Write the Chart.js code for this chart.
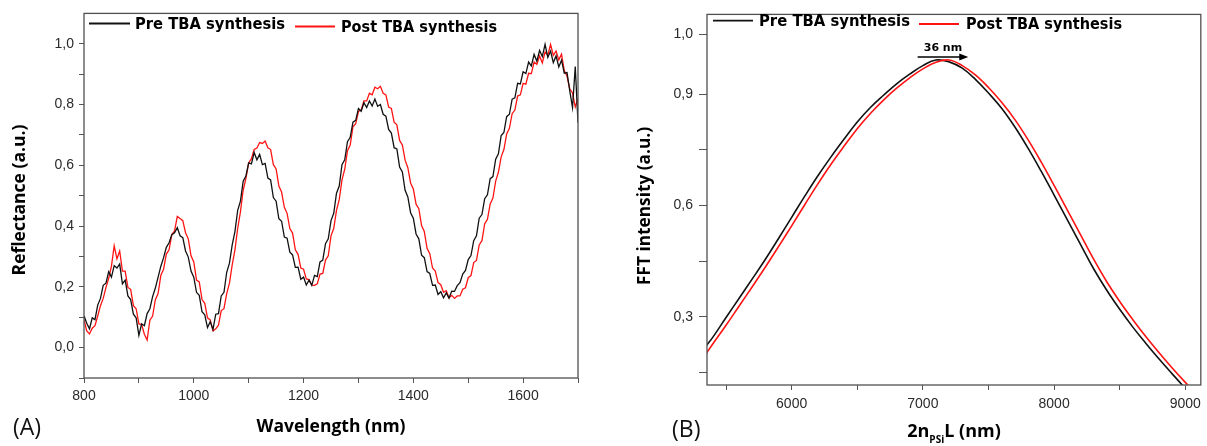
<!DOCTYPE html>
<html><head><meta charset="utf-8">
<script src="https://cdn.jsdelivr.net/npm/chart.js@4.4.1/dist/chart.umd.min.js"></script>
<style>
html,body{margin:0;padding:0;background:#fff;}
body{width:1207px;height:446px;position:relative;overflow:hidden;}
.panel{position:absolute;top:0;height:446px;}
#wa{left:0;width:600px;}
#wb{left:600px;width:607px;}
.tag{position:absolute;font-family:'Open Sans';font-size:23px;color:#111;line-height:30px;}
</style></head>
<body>
<div class="panel" id="wa"><canvas id="ca" width="600" height="446"></canvas></div>
<div class="panel" id="wb"><canvas id="cb" width="607" height="446"></canvas></div>
<div class="tag" style="left:13px;top:411px">(A)</div>
<div class="tag" style="left:672px;top:413px">(B)</div>
<script>
// ---------- Panel A data: reflectance spectra ----------
const wavelengthNm = [
800,805,810,815,820,825,830,835,840,845,850,855,860,865,870,875,880,885,890,895,
900,905,910,915,920,925,930,935,940,945,950,955,960,965,970,975,980,985,990,995,
1000,1005,1010,1015,1020,1025,1030,1035,1040,1045,1050,1055,1060,1065,1070,1075,1080,1085,1090,1095,
1100,1105,1110,1115,1120,1125,1130,1135,1140,1145,1150,1155,1160,1165,1170,1175,1180,1185,1190,1195,
1200,1205,1210,1215,1220,1225,1230,1235,1240,1245,1250,1255,1260,1265,1270,1275,1280,1285,1290,1295,
1300,1305,1310,1315,1320,1325,1330,1335,1340,1345,1350,1355,1360,1365,1370,1375,1380,1385,1390,1395,
1400,1405,1410,1415,1420,1425,1430,1435,1440,1445,1450,1455,1460,1465,1470,1475,1480,1485,1490,1495,
1500,1505,1510,1515,1520,1525,1530,1535,1540,1545,1550,1555,1560,1565,1570,1575,1580,1585,1590,1595,
1600,1605,1610,1615,1620,1625,1630,1635,1640,1645,1650,1655,1660,1665,1670,1675,1680,1685,1690,1695,
1700];
const reflPre = [
0.105,0.08,0.062,0.098,0.092,0.14,0.162,0.205,0.212,0.25,0.232,0.27,0.262,0.275,0.21,0.222,0.17,0.158,0.11,0.098,
0.04,0.078,0.072,0.112,0.128,0.168,0.196,0.232,0.268,0.296,0.33,0.345,0.372,0.378,0.395,0.368,0.362,0.318,0.298,0.252,
0.232,0.182,0.172,0.118,0.108,0.066,0.085,0.06,0.11,0.112,0.17,0.182,0.248,0.278,0.338,0.382,0.452,0.482,0.548,0.565,
0.608,0.605,0.642,0.618,0.636,0.602,0.606,0.558,0.552,0.494,0.482,0.424,0.416,0.364,0.36,0.314,0.305,0.264,0.265,0.225,
0.232,0.206,0.222,0.205,0.238,0.234,0.282,0.288,0.342,0.358,0.418,0.442,0.508,0.532,0.602,0.618,0.678,0.692,0.742,0.748,
0.787,0.778,0.806,0.79,0.812,0.795,0.818,0.794,0.8,0.768,0.762,0.718,0.706,0.658,0.654,0.594,0.578,0.518,0.496,0.444,
0.426,0.374,0.358,0.304,0.296,0.25,0.244,0.205,0.206,0.175,0.184,0.164,0.18,0.163,0.186,0.185,0.204,0.214,0.242,0.254,
0.29,0.303,0.352,0.368,0.426,0.438,0.49,0.503,0.556,0.563,0.62,0.638,0.698,0.708,0.76,0.768,0.818,0.822,0.87,0.868,
0.908,0.902,0.94,0.927,0.965,0.943,0.978,0.958,0.998,0.955,0.976,0.938,0.96,0.924,0.946,0.903,0.905,0.845,0.79,0.925,
0.74];
const reflPost = [
0.092,0.055,0.045,0.064,0.072,0.104,0.138,0.162,0.198,0.228,0.268,0.335,0.292,0.318,0.252,0.252,0.198,0.192,0.138,0.128,
0.078,0.076,0.044,0.025,0.09,0.104,0.158,0.178,0.238,0.258,0.308,0.322,0.372,0.384,0.432,0.425,0.418,0.378,0.358,0.302,
0.282,0.222,0.216,0.158,0.146,0.098,0.091,0.055,0.062,0.074,0.122,0.128,0.178,0.212,0.272,0.322,0.392,0.447,0.518,0.557,
0.608,0.622,0.652,0.657,0.675,0.672,0.68,0.658,0.652,0.602,0.588,0.532,0.512,0.462,0.442,0.392,0.377,0.322,0.307,0.262,
0.258,0.226,0.224,0.206,0.205,0.21,0.242,0.244,0.288,0.302,0.368,0.392,0.452,0.487,0.552,0.587,0.648,0.667,0.727,0.737,
0.777,0.782,0.812,0.812,0.837,0.832,0.857,0.852,0.86,0.837,0.832,0.792,0.787,0.742,0.733,0.682,0.667,0.617,0.592,0.542,
0.522,0.472,0.457,0.402,0.382,0.327,0.309,0.262,0.252,0.214,0.207,0.182,0.187,0.164,0.172,0.162,0.17,0.17,0.192,0.197,
0.23,0.237,0.28,0.287,0.338,0.352,0.408,0.422,0.473,0.492,0.548,0.577,0.628,0.652,0.703,0.722,0.77,0.782,0.828,0.832,
0.87,0.867,0.903,0.902,0.94,0.932,0.96,0.937,0.973,0.962,0.998,0.962,0.976,0.947,0.966,0.912,0.893,0.852,0.838,0.792,
0.82];
const wlTicks  = [800,900,1000,1100,1200,1300,1400,1500,1600,1700];
const wlLabels = ['800','','1000','','1200','','1400','','1600',''];
const reflTicks  = [-0.1,0,0.1,0.2,0.3,0.4,0.5,0.6,0.7,0.8,0.9,1.0];
const reflLabels = ['','0,0','','0,2','','0,4','','0,6','','0,8','','1,0'];

// ---------- Panel B data: FFT ----------
const opticalPathNm = [5350,5400,5500,5600,5700,5800,5900,6000,6100,6200,6300,6400,6500,6600,6700,6800,6900,7000,7100,
7200,7300,7400,7500,7600,7700,7800,7900,8000,8100,8200,8300,8400,8500,8600,8700,8800,8900,9000,9100];
const fftPre = [0.222,0.245,0.298,0.350,0.402,0.455,0.511,0.568,0.625,0.680,0.731,0.779,0.825,0.864,0.897,0.928,0.954,0.977,0.992,
0.987,0.970,0.940,0.903,0.862,0.812,0.755,0.693,0.628,0.562,0.496,0.430,0.372,0.320,0.272,0.228,0.186,0.146,0.107,0.070];
const fftPost = [0.201,0.227,0.277,0.329,0.381,0.434,0.489,0.545,0.602,0.658,0.711,0.760,0.807,0.848,0.884,0.916,0.944,0.968,0.986,
0.992,0.977,0.952,0.918,0.878,0.832,0.778,0.718,0.654,0.588,0.522,0.456,0.395,0.341,0.292,0.246,0.203,0.162,0.123,0.085];
const pathTicks  = [5500,6000,6500,7000,7500,8000,8500,9000];
const pathLabels = ['','6000','','7000','','8000','','9000'];
const fftTicks  = [0.15,0.3,0.45,0.6,0.75,0.9,1.062];
const fftLabels = ['','0,3','','0,6','','0,9','1,0'];
const shiftArrowNm = [6960, 7346];
const shiftText = '36 nm';

const seriesNames = ['Pre TBA synthesis', 'Post TBA synthesis'];
const BLACK = '#111111', RED = '#ff1414';

const pts = (xs, ys) => xs.map((x, i) => ({x, y: ys[i]}));
const tickFont = {family: '"Liberation Sans", Arial, sans-serif', size: 14};

function axis(min, max, ticks, labels, tickLen, pad, fitSize, horizontal) {
  return {
    type: 'linear', min, max,
    afterBuildTicks: s => { s.ticks = ticks.map(v => ({value: v})); },
    afterFit: s => { if (horizontal) s.height = fitSize; else s.width = fitSize; },
    ticks: {autoSkip: false, maxRotation: 0, padding: pad, color: '#2a2a2a', font: tickFont,
            callback: (v, i) => labels[i]},
    grid: {drawOnChartArea: false, drawTicks: true, tickLength: tickLen, color: '#555', tickWidth: 1},
    border: {display: false},
    title: {display: false}
  };
}

const framePlugin = {
  id: 'frame',
  afterDraw(chart) {
    const {ctx, chartArea: a} = chart;
    ctx.save();
    ctx.strokeStyle = '#505050'; ctx.lineWidth = 1.3;
    ctx.strokeRect(a.left, a.top, a.right - a.left, a.bottom - a.top);
    const o = chart.options.plugins.deco;
    ctx.fillStyle = '#000';
    o.legend.forEach((it, i) => {
      const ds = chart.data.datasets[i];
      ctx.strokeStyle = ds.borderColor; ctx.lineWidth = 1.8;
      ctx.beginPath(); ctx.moveTo(it.x0, it.ly); ctx.lineTo(it.x1, it.ly); ctx.stroke();
      ctx.font = 'bold 15.5px "DejaVu Sans"'; ctx.textBaseline = 'middle'; ctx.textAlign = 'left';
      ctx.fillText(ds.label, it.tx, it.ty, it.w);
    });
    ctx.font = 'bold 17.5px "Open Sans"';
    ctx.textAlign = 'center'; ctx.textBaseline = 'middle';
    ctx.save(); ctx.translate(o.yTitle.x, o.yTitle.y); ctx.rotate(-Math.PI / 2);
    ctx.fillText(o.yTitle.text, 0, 0, o.yTitle.w); ctx.restore();
    if (o.xTitle.sub) {
      const parts = o.xTitle.parts;
      const big = 'bold 18px "Open Sans"', small = 'bold 10px "Open Sans"';
      ctx.font = big; const w0 = ctx.measureText(parts[0]).width, w2 = ctx.measureText(parts[2]).width;
      ctx.font = small; const w1 = ctx.measureText(parts[1]).width;
      let x = o.xTitle.x - (w0 + w1 + w2) / 2;
      ctx.textAlign = 'left';
      ctx.font = big; ctx.fillText(parts[0], x, o.xTitle.y); x += w0;
      ctx.font = small; ctx.fillText(parts[1], x, o.xTitle.y + 8); x += w1;
      ctx.font = big; ctx.fillText(parts[2], x, o.xTitle.y);
    } else {
      ctx.fillText(o.xTitle.text, o.xTitle.x, o.xTitle.y, o.xTitle.w);
    }
    if (o.arrow) {
      const sx = chart.scales.x, sy = chart.scales.y;
      const xa = sx.getPixelForValue(o.arrow.from), xb = sx.getPixelForValue(o.arrow.to);
      const ya = sy.getPixelForValue(o.arrow.y);
      ctx.strokeStyle = '#000'; ctx.lineWidth = 1.4;
      ctx.beginPath(); ctx.moveTo(xa, ya); ctx.lineTo(xb - 6, ya); ctx.stroke();
      ctx.beginPath(); ctx.moveTo(xb, ya); ctx.lineTo(xb - 9, ya - 3.5); ctx.lineTo(xb - 9, ya + 3.5); ctx.closePath(); ctx.fill();
      ctx.font = 'bold 11px "DejaVu Sans"'; ctx.textAlign = 'center'; ctx.textBaseline = 'middle';
      ctx.fillText(o.arrow.text, (xa + xb) / 2, sy.getPixelForValue(o.arrow.textY));
    }
    ctx.restore();
  }
};

Chart.defaults.animation = false;

new Chart(document.getElementById('ca'), {
  type: 'line',
  data: {datasets: [
    {label: seriesNames[0], data: pts(wavelengthNm, reflPre), borderColor: BLACK, borderWidth: 1.3, pointRadius: 0, tension: 0, order: 1},
    {label: seriesNames[1], data: pts(wavelengthNm, reflPost), borderColor: RED, borderWidth: 1.3, pointRadius: 0, tension: 0, order: 2}
  ]},
  options: {
    responsive: false, animation: false,
    layout: {padding: {left: 0, right: 22, top: 12, bottom: 0}},
    scales: {
      x: axis(800, 1700, wlTicks, wlLabels, 5, 5, 68, true),
      y: axis(-0.1, 1.1, reflTicks, reflLabels, 5, 5, 84, false)
    },
    plugins: {
      legend: {display: false}, tooltip: {enabled: false},
      deco: {
        legend: [{x0: 89, x1: 130, ly: 23.5, tx: 135, ty: 24.5, w: 150},
                 {x0: 295, x1: 335, ly: 26.5, tx: 341, ty: 27.5, w: 156}],
        yTitle: {text: 'Reflectance (a.u.)', x: 20, y: 200, w: 152},
        xTitle: {text: 'Wavelength (nm)', x: 331, y: 427, w: 154}
      }
    }
  },
  plugins: [framePlugin]
});

new Chart(document.getElementById('cb'), {
  type: 'line',
  data: {datasets: [
    {label: seriesNames[0], data: pts(opticalPathNm, fftPre), borderColor: BLACK, borderWidth: 1.6, pointRadius: 0, tension: 0.4, order: 2},
    {label: seriesNames[1], data: pts(opticalPathNm, fftPost), borderColor: RED, borderWidth: 1.6, pointRadius: 0, tension: 0.4, order: 1}
  ]},
  options: {
    responsive: false, animation: false,
    layout: {padding: {left: 0, right: 3, top: 8, bottom: 0}},
    scales: {
      x: axis(5355, 9118, pathTicks, pathLabels, 5, 6, 61, true),
      y: axis(0.116, 1.115, fftTicks, fftLabels, 8, 6, 107, false)
    },
    plugins: {
      legend: {display: false}, tooltip: {enabled: false},
      deco: {
        legend: [{x0: 113, x1: 153, ly: 20.7, tx: 159, ty: 21.7, w: 151},
                 {x0: 319, x1: 359, ly: 24, tx: 366, ty: 25, w: 156}],
        yTitle: {text: 'FFT intensity (a.u.)', x: 45, y: 206, w: 158},
        xTitle: {sub: true, parts: ['2n', 'PSi', 'L (nm)'], x: 354, y: 432},
        arrow: {from: shiftArrowNm[0], to: shiftArrowNm[1], y: 1.0, text: shiftText, textY: 1.025}
      }
    }
  },
  plugins: [framePlugin]
});
</script>
</body></html>
